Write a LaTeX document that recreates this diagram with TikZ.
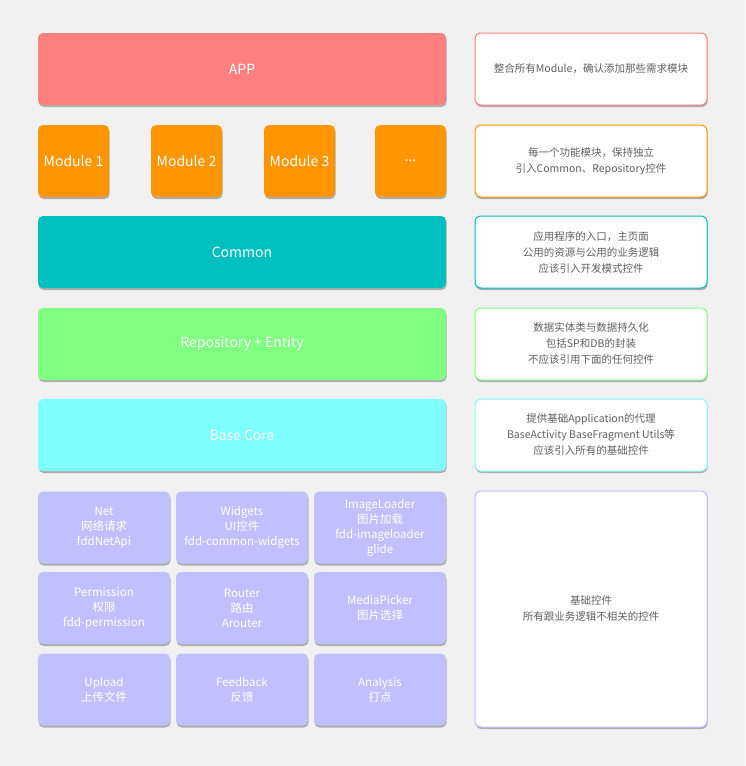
\documentclass[tikz,border=0pt]{standalone}
\usepackage{fontspec}
\setmainfont{Noto Sans CJK SC}
\usetikzlibrary{shadows}

\definecolor{bggray}{HTML}{F1F1F1}
\definecolor{appred}{HTML}{FF8080}
\definecolor{modorange}{HTML}{FF9500}
\definecolor{commonteal}{HTML}{00BFBF}
\definecolor{repogreen}{HTML}{80FF80}
\definecolor{basecyan}{HTML}{80FFFF}
\definecolor{libviolet}{HTML}{C0C0FF}
\definecolor{notegray}{HTML}{606060}

\tikzset{
    soft shadow/.style={drop shadow={shadow xshift=0.6pt, shadow yshift=-2pt, fill=black, opacity=0.28}},
    layer/.style={fill=#1, rounded corners=5pt, text=white, inner sep=0pt,
        minimum height=72pt, align=center, font=\fontsize{14}{17}\selectfont, soft shadow},
    libcell/.style={layer=libviolet, minimum width=132pt, font=\fontsize{11.5}{15}\selectfont},
    note/.style={draw=#1, line width=1pt, fill=white, rounded corners=6pt, text=notegray,
        inner sep=0pt, minimum width=232pt, minimum height=72pt, align=center,
        font=\fontsize{10.5}{16}\selectfont, soft shadow}
}

\begin{document}
\begin{tikzpicture}[x=1pt, y=-1pt]
    \fill[bggray] (0,0) rectangle (745,766);

    % left column: layers
    \node[layer=appred, minimum width=408pt] (app) at (242,69) {APP};
    \node[layer=modorange, minimum width=71pt] (mod1) at (73.5,161) {Module 1};
    \node[layer=modorange, minimum width=71pt] (mod2) at (186.5,161) {Module 2};
    \node[layer=modorange, minimum width=71pt] (mod3) at (299.5,161) {Module 3};
    \node[layer=modorange, minimum width=71pt] (modmore) at (410.5,161) {...};
    \node[layer=commonteal, minimum width=408pt] (common) at (242,252) {Common};
    \node[layer=repogreen, minimum width=408pt] (repo) at (242,344) {Repository + Entity};
    \node[layer=basecyan, minimum width=408pt] (base) at (242,435) {Base Core};

    % base libraries
    \node[libcell] (net) at (104,527.5) {Net\\网络请求\\fddNetApi};
    \node[libcell] (widgets) at (242,527.5) {Widgets\\UI控件\\fdd-common-widgets};
    \node[libcell] (imgload) at (380,527.5) {ImageLoader\\图片加载\\fdd-imageloader\\glide};
    \node[libcell] (perm) at (104,608) {Permission\\权限\\fdd-permission};
    \node[libcell] (router) at (242,608) {Router\\路由\\Arouter};
    \node[libcell] (picker) at (380,608) {MediaPicker\\图片选择};
    \node[libcell] (upload) at (104,689.5) {Upload\\上传文件};
    \node[libcell] (feedback) at (242,689.5) {Feedback\\反馈};
    \node[libcell] (analysis) at (380,689.5) {Analysis\\打点};

    % right column: notes
    \node[note=appred] (appnote) at (591,69) {整合所有Module，确认添加那些需求模块};
    \node[note=modorange] (modnote) at (591,161) {每一个功能模块，保持独立\\引入Common、Repository控件};
    \node[note=commonteal] (commonnote) at (591,252) {应用程序的入口，主页面\\公用的资源与公用的业务逻辑\\应该引入开发模式控件};
    \node[note=repogreen] (reponote) at (591,344) {数据实体类与数据持久化\\包括SP和DB的封装\\不应该引用下面的任何控件};
    \node[note=basecyan] (basenote) at (591,435) {提供基础Application的代理\\BaseActivity BaseFragment Utils等\\应该引入所有的基础控件};
    \node[note=libviolet, minimum height=236pt] (libnote) at (591,609) {基础控件\\所有跟业务逻辑不相关的控件};
\end{tikzpicture}
\end{document}
